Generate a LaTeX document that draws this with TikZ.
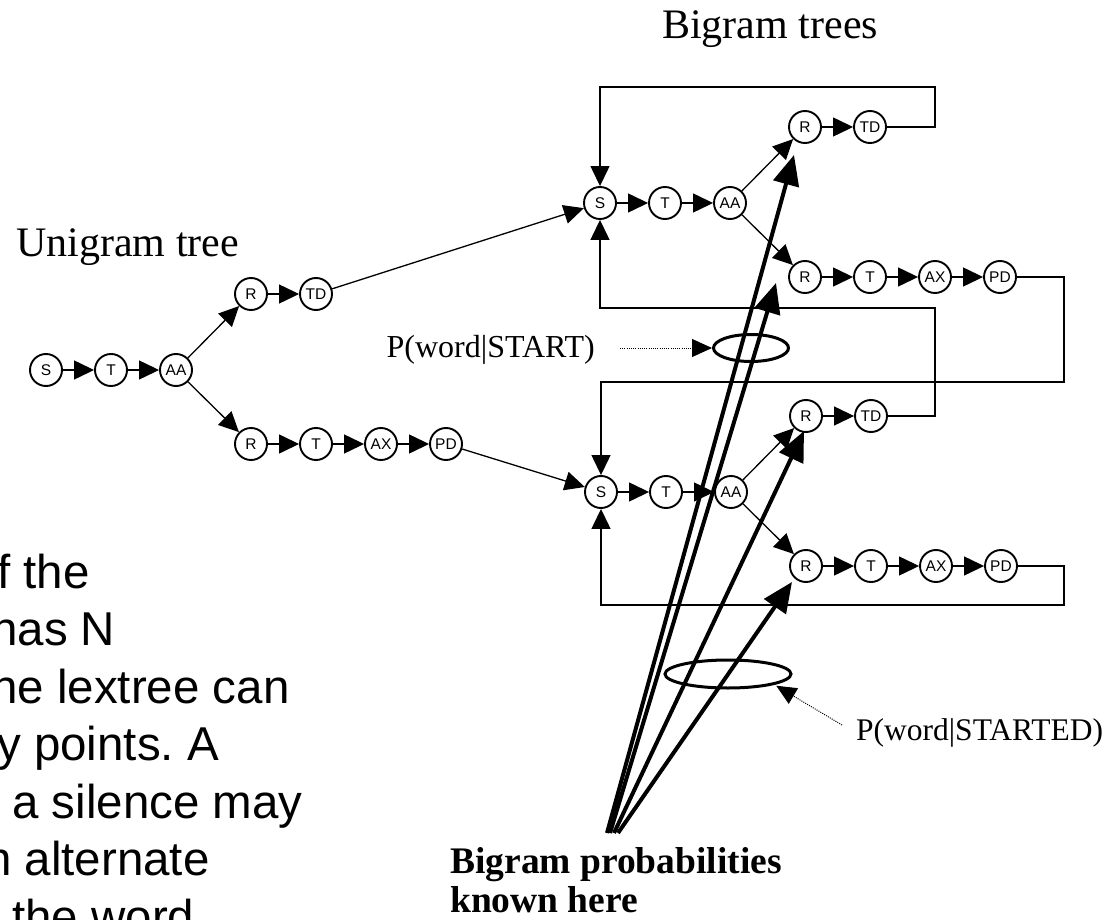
\documentclass[tikz,border=0pt]{standalone}
\usepackage{fontspec}
\setmainfont{Liberation Serif}
\setsansfont{Liberation Sans}
\usetikzlibrary{arrows.meta,shapes.geometric}
\frenchspacing

% One lexical tree: S-T-AA, then R-TD and R-T-AX-PD
\newcommand\lextree[3]{%
  \begin{scope}[shift={(#2,#3)}]
    \node[ph] (#1S)  at (0,0)     {S};
    \node[ph] (#1T)  at (65,0)    {T};
    \node[ph] (#1AA) at (130,0)   {AA};
    \node[ph] (#1R)  at (205,-76) {R};
    \node[ph] (#1TD) at (270,-76) {TD};
    \node[ph] (#1Rb) at (205,74)  {R};
    \node[ph] (#1Tb) at (270,74)  {T};
    \node[ph] (#1AX) at (335,74)  {AX};
    \node[ph] (#1PD) at (400,74)  {PD};
  \end{scope}
  \draw[link] (#1S) -- (#1T);
  \draw[link] (#1T) -- (#1AA);
  \draw[link] (#1AA) -- (#1R);
  \draw[link] (#1R) -- (#1TD);
  \draw[link] (#1AA) -- (#1Rb);
  \draw[link] (#1Rb) -- (#1Tb);
  \draw[link] (#1Tb) -- (#1AX);
  \draw[link] (#1AX) -- (#1PD);
}

\begin{document}
\begin{tikzpicture}[x=1pt,y=-1pt,
  ph/.style={circle,draw,line width=1.9pt,minimum size=32pt,inner sep=0pt,
    font=\sffamily\fontsize{15.5}{15.5}\selectfont},
  link/.style={line width=1.3pt,-{Triangle[length=20pt,width=19pt]}},
  bigarrow/.style={line width=4pt,-{Triangle[length=30pt,width=26pt]}},
  group/.style={ellipse,draw,line width=3pt,inner sep=0pt},
  hint/.style={line width=1pt,dash pattern=on 1pt off 1.2pt,
    -{Triangle[length=20pt,width=18pt]}},
  title/.style={anchor=base west,inner sep=0pt,font=\fontsize{42}{48}\selectfont},
  note/.style={inner sep=0pt},
  para/.style={anchor=base west,inner sep=0pt,font=\sffamily\fontsize{47.5}{57}\selectfont}
]
\useasboundingbox (0,0) rectangle (1112,920);
\fill[white] (0,0) rectangle (1112,920);

% titles
\node[title] (unititle) at (16,257) {Unigram tree};
\node[title] (bititle) at (662,39) {Bigram trees};

% the unigram tree and the two bigram copies
\lextree{u}{46}{370}
\lextree{a}{600}{203}
\lextree{b}{601}{492}

% word ends of the unigram tree enter the bigram trees
\draw[link] (uTD) -- (aS);
\draw[link] (uPD) -- (bS);

% loops from word ends back to the tree roots
\coordinate (ra) at (935,87);
\coordinate (rb) at (935,308);
\coordinate (rc) at (1064,382);
\coordinate (rd) at (1064,605);
\draw[link] (aTD.east) -| (ra) -| (aS.north);
\draw[link] (bTD.east) -| (rb) -| (aS.south);
\draw[link] (aPD.east) -| (rc) -| (bS.north);
\draw[link] (bPD.east) -| (rd) -| (bS.south);

% bigram probability arrows
\coordinate (src1) at (607,833);
\coordinate (src2) at (610,833);
\coordinate (src3) at (614,833);
\coordinate (src4) at (618,833);
\coordinate (tip1) at (794,155);
\coordinate (tip2) at (776,283);
\coordinate (tip3) at (804,431);
\coordinate (tip4) at (792,582);
\draw[bigarrow] (src1) -- (tip1);
\draw[bigarrow] (src2) -- (tip2);
\draw[bigarrow] (src3) -- (tip3);
\draw[bigarrow] (src4) -- (tip4);

% groupings and their labels
\node[group,minimum width=75pt,minimum height=27pt] (e1) at (751,348) {};
\node[group,minimum width=126pt,minimum height=28pt] (e2) at (728,674) {};

\node[note,anchor=base east,font=\fontsize{32}{36}\selectfont] (pstart) at (595,357) {P(word|START)};
\coordinate (d1) at (620,348);
\draw[hint] (d1) -- (e1.west);

\node[note,anchor=base west,font=\fontsize{31.5}{36}\selectfont] (pstarted) at (856,740) {P(word|STARTED)};
\coordinate (d2) at (842,725);
\draw[hint,shorten >=2pt] (d2) -- (e2.-13);

\node[note,anchor=base west,align=left,font=\bfseries\fontsize{37.5}{39}\selectfont] (known) at (450,912) {Bigram probabilities\\known here};

% body text at the left edge
\node[para] (l1) at (-3,588)   {f the};
\node[para] (l2) at (-9,645.5) {has N};
\node[para] (l3) at (-9,703)   {he lextree can};
\node[para] (l4) at (-3,760.5) {y points. A};
\node[para] (l5) at (12,818)   {a silence may};
\node[para] (l6) at (-15,875.5) {n alternate};
\node[para] (l7) at (12,933)   {the word};
\end{tikzpicture}
\end{document}
